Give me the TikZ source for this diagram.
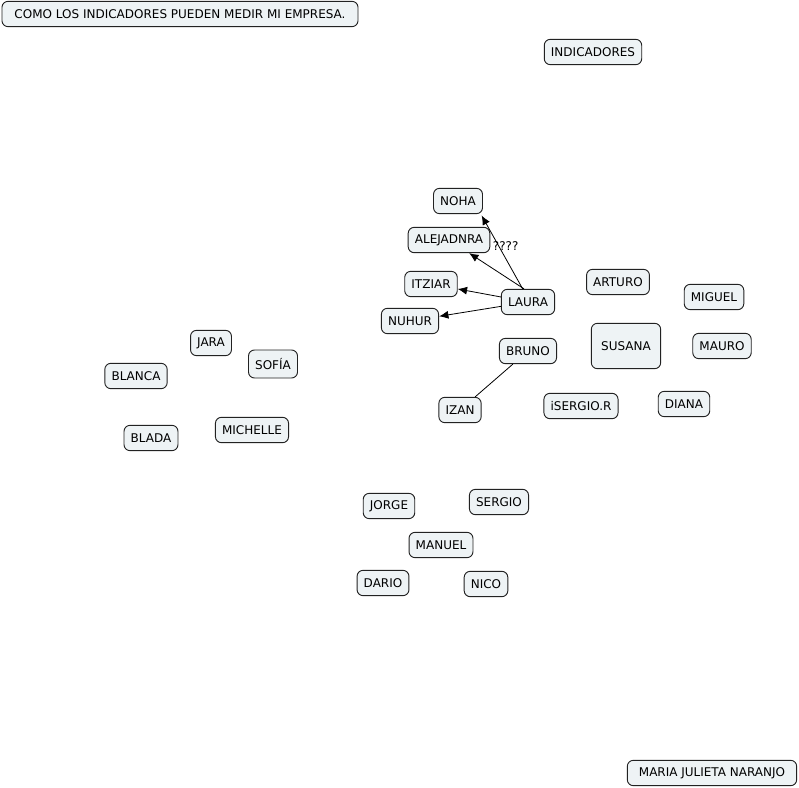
\documentclass[tikz,border=0pt]{standalone}
\usepackage{fontspec}
\setmainfont{DejaVu Sans}
\usetikzlibrary{arrows.meta}
\definecolor{boxfill}{HTML}{EEF3F5}
\definecolor{boxline}{HTML}{222222}
\begin{document}
\begin{tikzpicture}[x=0.75pt, y=-0.75pt, >={Latex[length=7pt,width=6pt]},
		box/.style={draw=boxline, fill=boxfill, line width=0.7pt, rounded corners=4.5pt, font=\fontsize{9}{11}\selectfont, minimum height=19pt, inner xsep=5pt},
		link/.style={draw=black, line width=0.6pt}]
	\useasboundingbox (0,0) rectangle (799,788);
	% titulos
	\node[box, minimum width=267pt] (titulo) at (180,14) {COMO LOS INDICADORES PUEDEN MEDIR MI EMPRESA.};
	\node[box] (indicadores) at (593,52) {INDICADORES};
	\node[box, minimum width=127pt] (autora) at (712,773) {MARIA JULIETA NARANJO};
	% grupo de laura
	\node[box] (noha) at (458,201) {NOHA};
	\node[box] (alejadnra) at (449,240) {ALEJADNRA};
	\node[box] (itziar) at (431,284) {ITZIAR};
	\node[box] (laura) at (528,302) {LAURA};
	\node[box] (nuhur) at (410,321) {NUHUR};
	\node[box] (bruno) at (528,351) {BRUNO};
	\node[box] (izan) at (460,410) {IZAN};
	% derecha
	\node[box] (arturo) at (618,282) {ARTURO};
	\node[box] (miguel) at (714,297) {MIGUEL};
	\node[box, minimum width=52pt, minimum height=34pt] (susana) at (626,346) {SUSANA};
	\node[box] (mauro) at (722,346) {MAURO};
	\node[box] (isergio) at (581,406) {iSERGIO.R};
	\node[box] (diana) at (684,404) {DIANA};
	% izquierda
	\node[box] (jara) at (211,343) {JARA};
	\node[box, minimum height=21pt] (sofia) at (273,364) {SOFÍA};
	\node[box] (blanca) at (136,376) {BLANCA};
	\node[box] (blada) at (151,438) {BLADA};
	\node[box] (michelle) at (252,430) {MICHELLE};
	% abajo
	\node[box] (jorge) at (389,506) {JORGE};
	\node[box] (sergio) at (499,502) {SERGIO};
	\node[box] (manuel) at (441,545) {MANUEL};
	\node[box] (dario) at (383,583) {DARIO};
	\node[box] (nico) at (486,584) {NICO};
	% enlaces
	\draw[link, ->] ([xshift=-4pt]laura.north) -- node[pos=0.56, xshift=4.5pt, yshift=1pt, font=\fontsize{9}{11}\selectfont, inner sep=1pt] {????} ([xshift=-1pt,yshift=-1pt]noha.south east);
	\draw[link, ->] ([xshift=-3pt]laura.north) -- (alejadnra);
	\draw[link, ->] (laura) -- (itziar);
	\draw[link, ->] (laura) -- (nuhur);
	\draw[link] (bruno) -- (izan);
\end{tikzpicture}
\end{document}
